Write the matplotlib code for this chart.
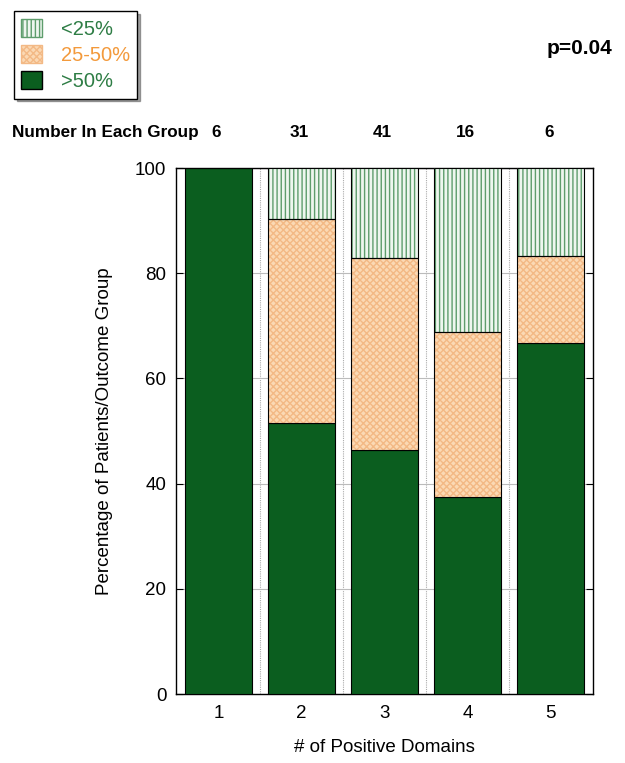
import matplotlib
matplotlib.use('Agg')
import matplotlib.pyplot as plt
from matplotlib.patches import Patch
import numpy as np

plt.rcParams['font.family'] = ['Liberation Sans', 'DejaVu Sans']
plt.rcParams['hatch.linewidth'] = 1.0

domains = ['1', '2', '3', '4', '5']
n_group = [6, 31, 41, 16, 6]
over50 = [100.0, 51.6, 46.3, 37.5, 66.7]     # >50%
mid = [0.0, 38.7, 36.6, 31.25, 16.6]         # 25-50%
under25 = [0.0, 9.7, 17.1, 31.25, 16.7]      # <25%

dark_green = '#0b5e1f'
orange_fill = '#fbd9b4'
orange_hatch = '#f3b985'
green_hatch = '#5e9d6c'
orange_text = '#f39a3c'
green_text = '#2e7d45'

fig = plt.figure(figsize=(6.25, 7.63), dpi=100)
ax = fig.add_axes([0.2816, 0.0904, 0.6672, 0.6894])

x = np.arange(1, 6)
w = 0.81
bottom_mid = np.array(over50)
bottom_top = bottom_mid + np.array(mid)

ax.bar(x, over50, w, color=dark_green, edgecolor='black', lw=0.8, zorder=3)
# hatched layers: fill+hatch first, then the black outline on top
ax.bar(x, mid, w, bottom=bottom_mid, color=orange_fill, edgecolor=orange_hatch,
       hatch='xxxxx', lw=0, zorder=3)
ax.bar(x, mid, w, bottom=bottom_mid, fill=False, edgecolor='black', lw=0.8, zorder=4)
ax.bar(x, under25, w, bottom=bottom_top, color='#eef6ef', edgecolor=green_hatch,
       hatch='||||', lw=0, zorder=3)
ax.bar(x, under25, w, bottom=bottom_top, fill=False, edgecolor='black', lw=0.8, zorder=4)

# faint separators in the gaps
for xs in x[:-1] + 0.5:
    ax.axvline(xs, color='#aaaaaa', lw=0.8, ls=(0, (1, 1)), zorder=1)
ax.yaxis.grid(True, color='#bbbbbb', lw=0.8, zorder=0)

ax.set_xlim(0.49, 5.51)
ax.set_ylim(0, 100)
ax.set_xticks(x)
ax.set_xticklabels(domains)
ax.set_yticks([0, 20, 40, 60, 80, 100])
ax.tick_params(axis='x', length=0, labelsize=13.5, pad=8)
ax.tick_params(axis='y', direction='in', right=True, length=5, labelsize=13.5, pad=7)
for s in ax.spines.values():
    s.set_linewidth(1.0)

ax.set_ylabel('Percentage of Patients/Outcome Group', fontsize=13.5, labelpad=16)
ax.set_xlabel('# of Positive Domains', fontsize=13.5, labelpad=12)

# counts above each bar
fig.text(0.02, 0.826, 'Number In Each Group', fontsize=12.3, fontweight='bold', va='center')
for xi, n in zip(x, n_group):
    xf = ax.transData.transform((xi, 0))[0] / fig.bbox.width
    fig.text(xf - 0.003, 0.826, str(n), fontsize=12.3, fontweight='bold', ha='center', va='center')

fig.text(0.98, 0.937, 'p=0.04', fontsize=15, fontweight='bold', ha='right', va='center')

# legend
handles = [Patch(facecolor='#eef6ef', edgecolor=green_hatch, hatch='||||'),
           Patch(facecolor=orange_fill, edgecolor=orange_hatch, hatch='xxxxx'),
           Patch(facecolor=dark_green, edgecolor='black')]
leg = fig.legend(handles, ['<25%', '25-50%', '>50%'], loc='upper left',
                 bbox_to_anchor=(0.022, 0.985), fontsize=14.5, frameon=True,
                 fancybox=False, shadow=True, edgecolor='black',
                 handlelength=1.0, handleheight=1.0, labelspacing=0.3,
                 borderpad=0.38, handletextpad=0.95, borderaxespad=0)
leg.get_frame().set_linewidth(1.0)
for t, c in zip(leg.get_texts(), [green_text, orange_text, green_text]):
    t.set_color(c)

fig.savefig('out.png', dpi=100)
